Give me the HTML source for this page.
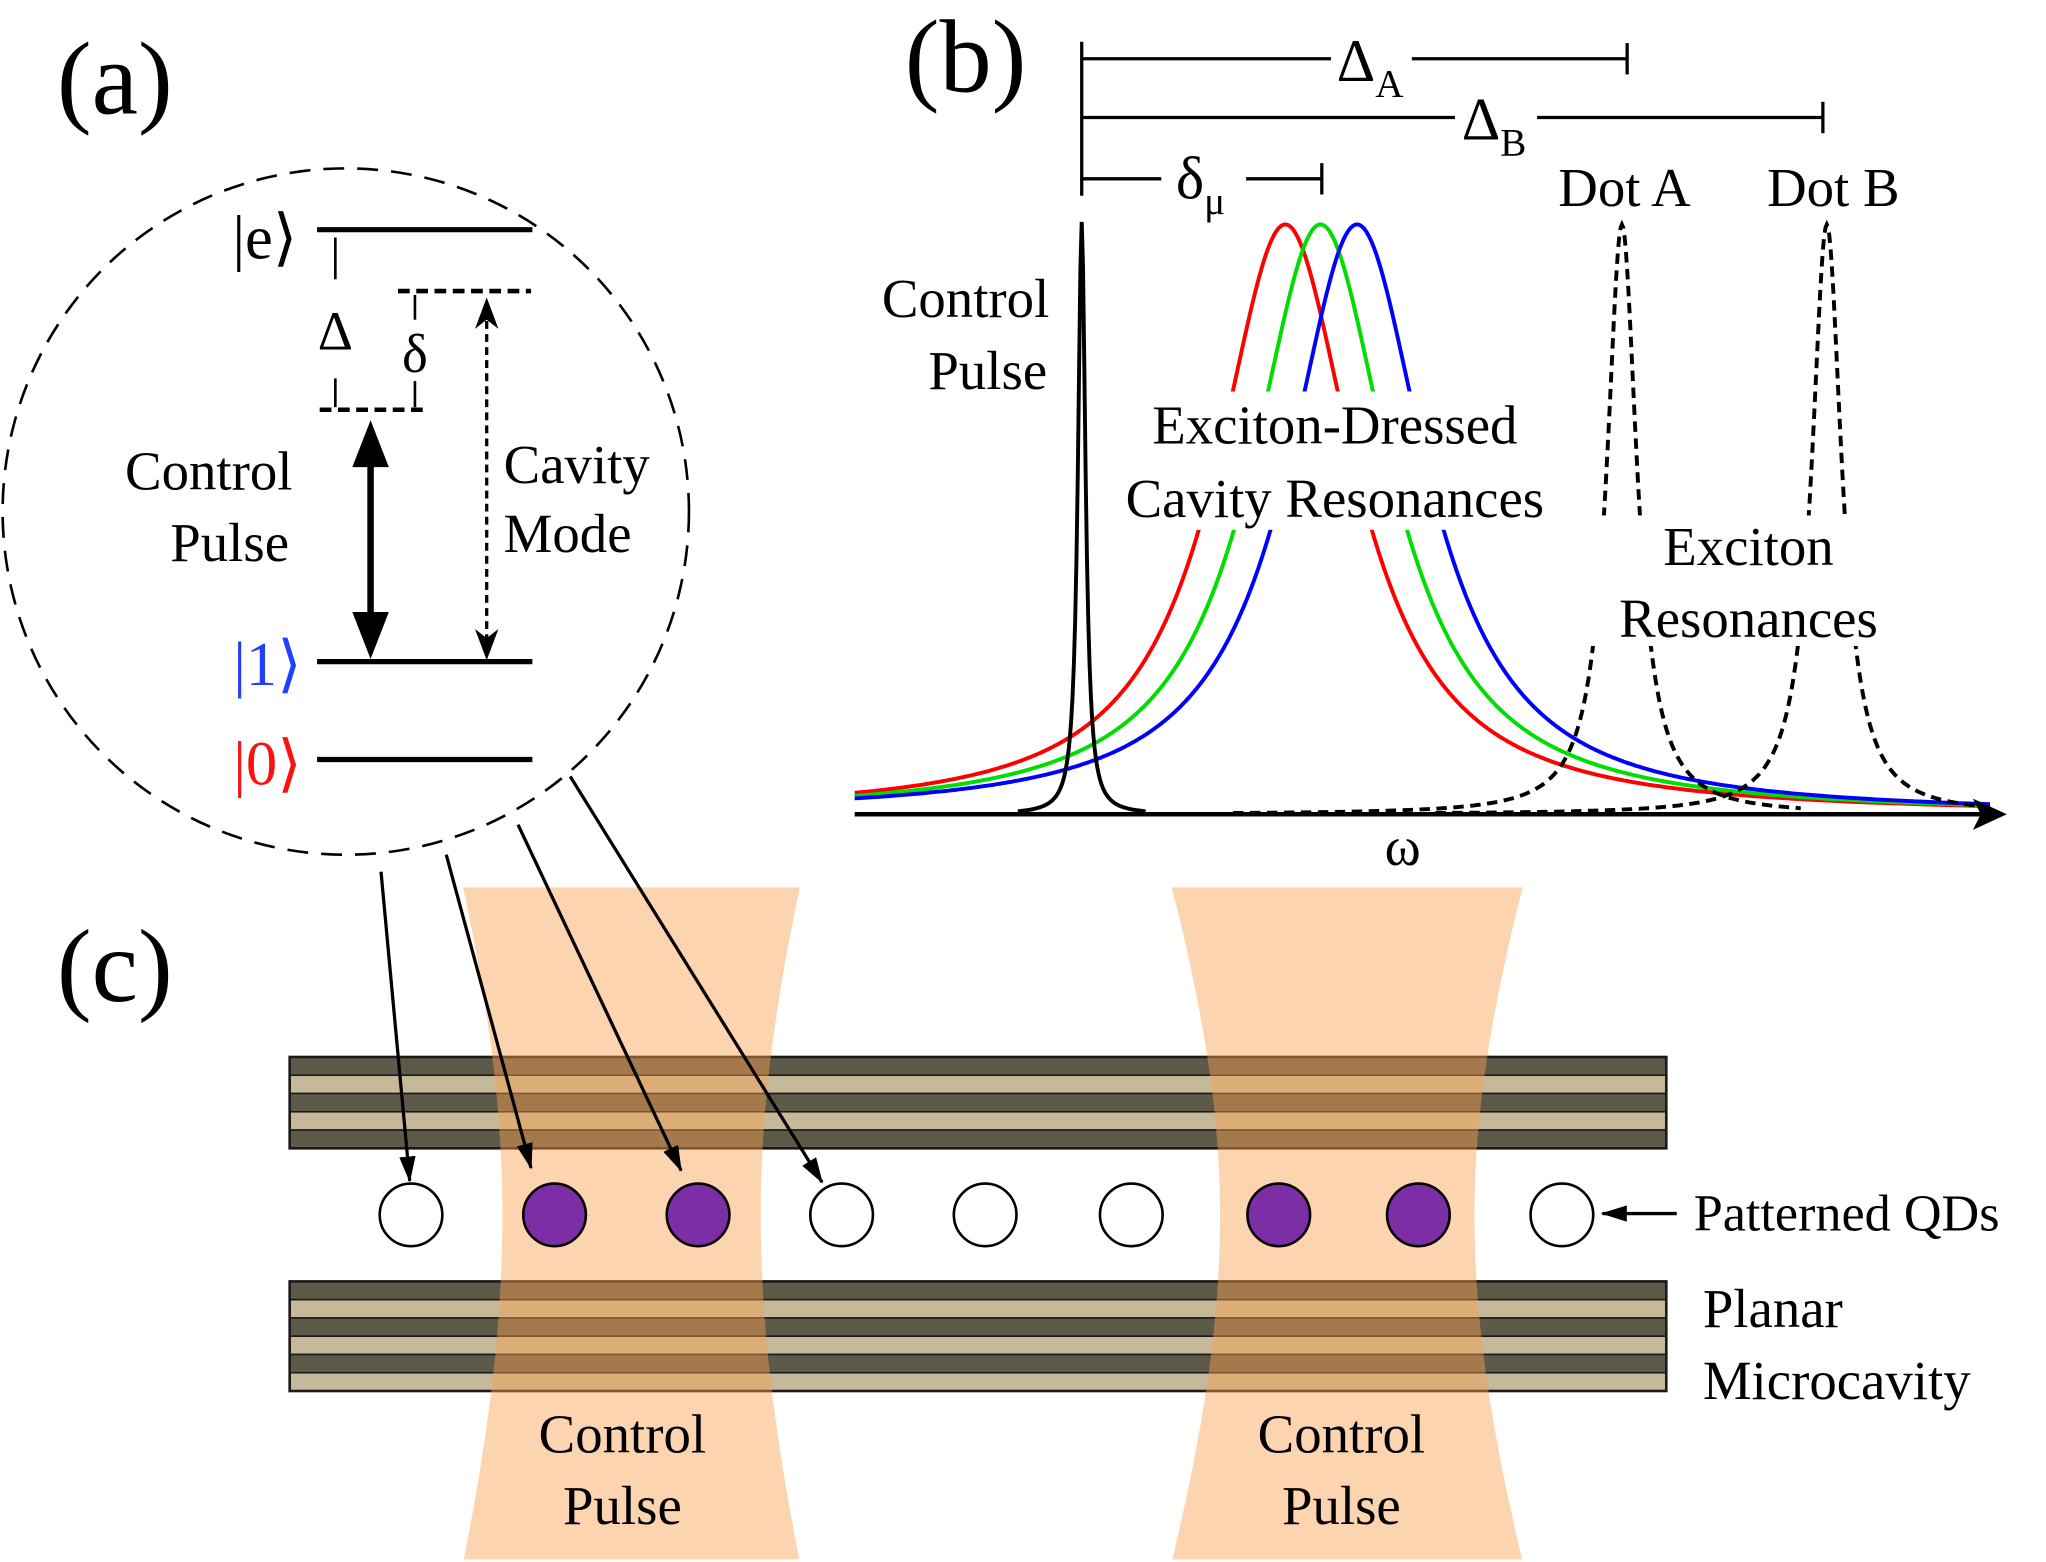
<!DOCTYPE html>
<html><head><meta charset="utf-8"><style>
html,body{margin:0;padding:0;background:#fff}
svg{display:block}
text{font-family:"Liberation Serif",serif;fill:#000}
</style></head><body>
<svg id="s" width="2046" height="1562" viewBox="0 0 1568 1197" xmlns="http://www.w3.org/2000/svg">
<defs>
<marker id="ah" viewBox="0 0 16 10" refX="15" refY="5" markerWidth="8" markerHeight="5" orient="auto-start-reverse"><path d="M0,0L16,5L0,10z" fill="#000"/></marker>
</defs>
<!-- (a) -->
<text x="88" y="87" font-size="80" text-anchor="middle">(a)</text>
<circle cx="265" cy="392" r="263" fill="none" stroke="#000" stroke-width="2" stroke-dasharray="16,10"/>
<g stroke="#000" stroke-width="4">
<line x1="243" y1="176" x2="408" y2="176"/>
<line x1="243" y1="507" x2="408" y2="507"/>
<line x1="243" y1="582" x2="408" y2="582"/>
</g>
<g stroke="#000" stroke-width="3.5" stroke-dasharray="9,5">
<line x1="245" y1="314" x2="326" y2="314"/>
<line x1="305" y1="223" x2="407" y2="223"/>
</g>
<g stroke="#000" stroke-width="2">
<line x1="257" y1="182" x2="257" y2="214"/><line x1="257" y1="290" x2="257" y2="312"/>
<line x1="318" y1="226" x2="318" y2="245"/><line x1="318" y1="292" x2="318" y2="312"/>
</g>
<text x="257" y="268" font-size="42" text-anchor="middle">Δ</text>
<text x="318" y="285" font-size="42" text-anchor="middle">δ</text>
<line x1="284" y1="330" x2="284" y2="490" stroke="#000" stroke-width="5"/>
<path d="M284,322 L270,358 L298,358z" fill="#000"/>
<path d="M284,505 L270,469 L298,469z" fill="#000"/>
<line x1="373" y1="236" x2="373" y2="496" stroke="#000" stroke-width="2.5" stroke-dasharray="6,4"/>
<path d="M373,228 L364,252 L373,245 L382,252z" fill="#000"/>
<path d="M373,506 L364,482 L373,489 L382,482z" fill="#000"/>
<text x="160" y="375" font-size="42" text-anchor="middle">Control</text>
<text x="176" y="430" font-size="42" text-anchor="middle">Pulse</text>
<text x="442" y="370" font-size="42" text-anchor="middle">Cavity</text>
<text x="435" y="423" font-size="42" text-anchor="middle">Mode</text>
<text x="203" y="198" font-size="48" text-anchor="middle">|e⟩</text>
<text x="205" y="525" font-size="48" text-anchor="middle" style="fill:#2040ff">|1⟩</text>
<text x="205" y="601" font-size="48" text-anchor="middle" style="fill:#ff1010">|0⟩</text>
<!-- (b) -->
<text x="740" y="70" font-size="80" text-anchor="middle">(b)</text>
<g stroke="#000" stroke-width="2.5">
<line x1="829" y1="32" x2="829" y2="150"/>
<line x1="829" y1="45" x2="1020" y2="45"/><line x1="1082" y1="45" x2="1247" y2="45"/><line x1="1247" y1="33" x2="1247" y2="57"/>
<line x1="829" y1="90" x2="1115" y2="90"/><line x1="1178" y1="90" x2="1397" y2="90"/><line x1="1397" y1="78" x2="1397" y2="102"/>
<line x1="829" y1="137" x2="890" y2="137"/><line x1="955" y1="137" x2="1013" y2="137"/><line x1="1013" y1="125" x2="1013" y2="149"/>
</g>
<text x="1050" y="62" font-size="46" text-anchor="middle">Δ<tspan font-size="30" dy="12">A</tspan></text>
<text x="1145" y="107" font-size="46" text-anchor="middle">Δ<tspan font-size="30" dy="12">B</tspan></text>
<text x="920" y="152" font-size="46" text-anchor="middle">δ<tspan font-size="30" dy="12">μ</tspan></text>
<g id="curves" fill="none" stroke-width="3"></g>
<rect x="1180" y="395" width="270" height="100" fill="#fff"/>
<rect x="862" y="300" width="324" height="106" fill="#fff"/>
<line x1="655" y1="624" x2="1525" y2="624" stroke="#000" stroke-width="3.5"/>
<path d="M1538,624 L1512,612 L1518,624 L1512,636z" fill="#000"/>
<text x="1075" y="663" font-size="42" text-anchor="middle">ω</text>
<text x="740" y="243" font-size="42" text-anchor="middle">Control</text>
<text x="757" y="298" font-size="42" text-anchor="middle">Pulse</text>
<text x="1023" y="340" font-size="42" text-anchor="middle">Exciton-Dressed</text>
<text x="1023" y="396" font-size="42" text-anchor="middle">Cavity Resonances</text>
<text x="1340" y="433" font-size="42" text-anchor="middle">Exciton</text>
<text x="1340" y="488" font-size="42" text-anchor="middle">Resonances</text>
<text x="1245" y="158" font-size="42" text-anchor="middle">Dot A</text>
<text x="1405" y="158" font-size="42" text-anchor="middle">Dot B</text>
<!-- (c) -->
<text x="88" y="767" font-size="80" text-anchor="middle">(c)</text>
<g id="mirrors"></g>
<g id="beams" fill="rgb(250,160,80)" fill-opacity="0.45"></g>
<g id="dots" stroke="#000" stroke-width="2"></g>
<g stroke="#000" stroke-width="2.5" fill="none">
<line x1="292" y1="668" x2="314" y2="905" marker-end="url(#ah)"/>
<line x1="342" y1="655" x2="407" y2="895" marker-end="url(#ah)"/>
<line x1="397" y1="632" x2="522" y2="897" marker-end="url(#ah)"/>
<line x1="437" y1="595" x2="630" y2="906" marker-end="url(#ah)"/>
<line x1="1285" y1="930" x2="1228" y2="930" marker-end="url(#ah)"/>
</g>
<text x="1298" y="943" font-size="40">Patterned QDs</text>
<text x="1305" y="1017" font-size="42">Planar</text>
<text x="1305" y="1072" font-size="42">Microcavity</text>
<text x="477" y="1113" font-size="42" text-anchor="middle">Control</text>
<text x="477" y="1168" font-size="42" text-anchor="middle">Pulse</text>
<text x="1028" y="1113" font-size="42" text-anchor="middle">Control</text>
<text x="1028" y="1168" font-size="42" text-anchor="middle">Pulse</text>
</svg>
<script>
var NS="http://www.w3.org/2000/svg";
function el(p,t,a){var e=document.createElementNS(NS,t);for(var k in a)e.setAttribute(k,a[k]);p.appendChild(e);return e;}
var cg=document.getElementById("curves");
function lor(c,g,h,x0,x1){var d="";for(var x=x0;x<=x1;x+=1){var y=624-h*g*g/(g*g+(x-c)*(x-c));d+=(x==x0?"M":"L")+x+","+y.toFixed(1);}return d;}
el(cg,"path",{d:lor(985,64,452,655,1525),stroke:"#ff0000"});
el(cg,"path",{d:lor(1012,64,452,655,1525),stroke:"#00dd00"});
el(cg,"path",{d:lor(1040,64,452,655,1525),stroke:"#0000ff"});
el(cg,"path",{d:lor(829,3.5,454,780,878),stroke:"#000"});
el(cg,"path",{d:lor(1243,14,452,945,1380),stroke:"#000","stroke-dasharray":"8,5"});
el(cg,"path",{d:lor(1400,14,452,1100,1525),stroke:"#000","stroke-dasharray":"8,5"});
var mg=document.getElementById("mirrors");
function mirror(y0,y1,n){var h=(y1-y0)/n;for(var i=0;i<n;i++)el(mg,"rect",{x:222,y:y0+i*h,width:1055,height:h,fill:i%2?"#c5b99a":"#5e5a4a",stroke:"#1a1a1a","stroke-width":1.2});el(mg,"rect",{x:222,y:y0,width:1055,height:y1-y0,fill:"none",stroke:"#1a1a1a","stroke-width":2});}
mirror(810,880,5);mirror(982,1066,6);
var bg=document.getElementById("beams");
function beam(l0,r0,wl,wr,yw){var c=(l0+r0)/2;function half(yy){var t=(yy-yw)/(yy<yw?yw-680:1197-yw);return t*t;}
var L="",R=[];for(var y=680;y<=1197;y+=5){var w0=(r0-l0)/2,ww=(wr-wl)/2;var w=Math.sqrt(ww*ww+(w0*w0-ww*ww)*half(y));L+=(y==680?"M":"L")+(c-w).toFixed(1)+","+y;R.push((c+w).toFixed(1)+","+y);}
L+="L"+R.reverse().join("L")+"Z";el(bg,"path",{d:L});}
beam(355,613,385,583,931);beam(898,1167,935,1130,931);
var dg=document.getElementById("dots");
[315,425,535,645,755,867,980,1087,1197].forEach(function(x,i){el(dg,"circle",{cx:x,cy:931,r:24,fill:[1,2,6,7].indexOf(i)>=0?"#7b2ea6":"#fff"});});
</script>
</body></html>
